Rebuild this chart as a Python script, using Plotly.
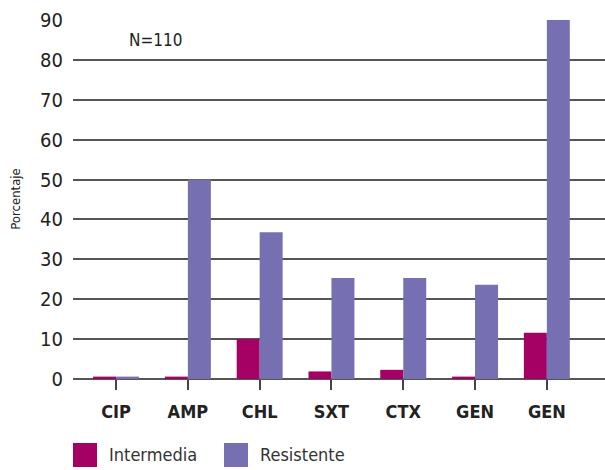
import plotly.graph_objects as go

categories = ["CIP", "AMP", "CHL", "SXT", "CTX", "GEN", "GEN"]
intermedia = [0.6, 0.6, 10.0, 1.9, 2.3, 0.6, 11.6]
resistente = [0.6, 50.0, 36.8, 25.3, 25.3, 23.6, 90.0]
y_ticks = [0, 10, 20, 30, 40, 50, 60, 70, 80, 90]

keys = [f"c{i}" for i in range(len(categories))]
FONT = "'DejaVu Sans Condensed', 'Liberation Sans Narrow', sans-serif"
C_INT = "#A50064"
C_RES = "#766FB2"

fig = go.Figure()
fig.add_trace(go.Bar(x=keys, y=intermedia, name="Intermedia", marker_color=C_INT,
                     marker_line_width=0, showlegend=False, hoverinfo="skip"))
fig.add_trace(go.Bar(x=keys, y=resistente, name="Resistente", marker_color=C_RES,
                     marker_line_width=0, showlegend=False, hoverinfo="skip"))

fig.update_layout(
    width=605, height=470,
    margin=dict(l=73, r=0, t=19, b=91, autoexpand=False),
    paper_bgcolor="white", plot_bgcolor="white",
    barmode="group", bargap=0.36, bargroupgap=0,
    font=dict(family=FONT, color="#222222", size=16),
)
fig.update_xaxes(
    type="category", tickvals=keys, ticktext=categories, automargin=False,
    range=[-0.6, 6.81], showgrid=False, showline=False, zeroline=False,
    ticks="outside", ticklen=10, tickwidth=1.5, tickcolor="#444444",
    tickfont=dict(family=FONT, size=18, color="#222222", weight="bold"),
    ticklabelstandoff=6,
)
fig.update_yaxes(
    range=[0, 90.25], tickvals=y_ticks, showgrid=True, gridcolor="#555555", gridwidth=1.5,
    zeroline=True, zerolinecolor="#555555", zerolinewidth=1.5, showline=False, automargin=False,
    ticks="", tickfont=dict(family=FONT, size=20, color="#222222"), ticklabelstandoff=9,
    title=dict(text="Porcentaje", font=dict(family=FONT, size=13, color="#222222"), standoff=16),
)

fig.add_annotation(text="N=110", xref="paper", yref="paper", x=0.102, y=0.942,
                   xanchor="left", yanchor="middle", showarrow=False,
                   font=dict(family=FONT, size=17, color="#222222"))

# legend
for i, (name, col) in enumerate([("Intermedia", C_INT), ("Resistente", C_RES)]):
    x0 = 0 + i * 151
    fig.add_shape(type="rect", xref="paper", yref="paper",
                  x0=x0 / 532, x1=(x0 + 24) / 532,
                  y0=-(443 - 379) / 360, y1=-(467 - 379) / 360,
                  fillcolor=col, line_width=0)
    fig.add_annotation(text=name, xref="paper", yref="paper",
                       x=(x0 + 34) / 532, y=-(455 - 379) / 360,
                       xanchor="left", yanchor="middle", showarrow=False,
                       font=dict(family=FONT, size=18, color="#333333"))

fig.write_html("out.html", config={"displayModeBar": False},
               post_script="document.body.style.margin='0';document.body.style.overflow='hidden';")
